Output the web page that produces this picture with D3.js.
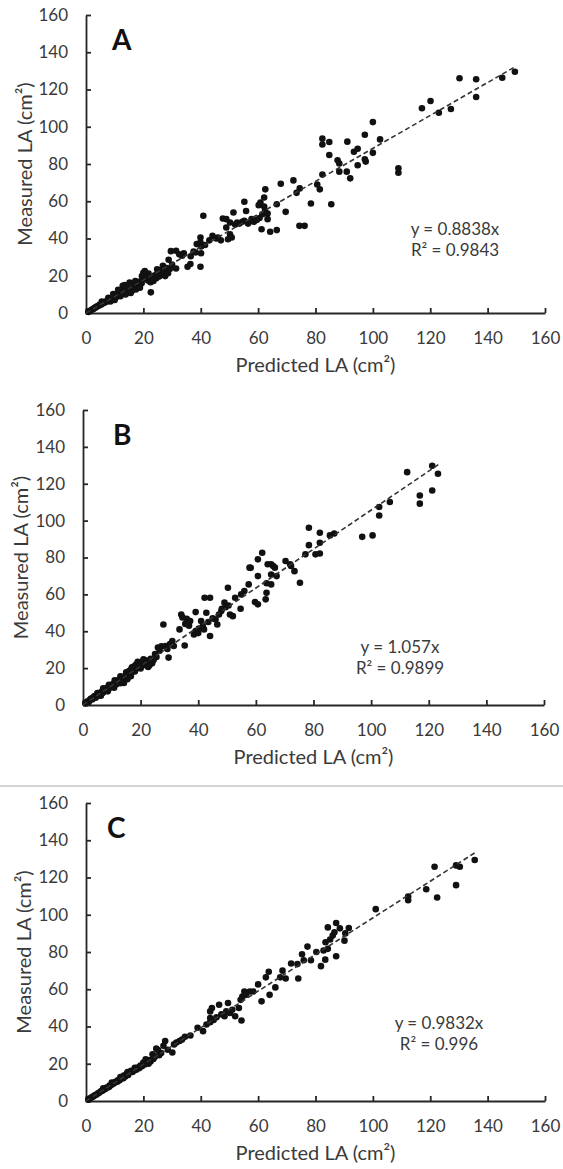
<!DOCTYPE html>
<html><head><meta charset="utf-8">
<script src="https://cdn.jsdelivr.net/npm/d3@7"></script>
<style>body{margin:0;background:#fff} text{font-family:Lato, "Open Sans", sans-serif}</style>
</head><body><svg id="c" width="563" height="1169"></svg>
<script>
// ---------- DATA ----------
const pointsA = [
[0.8,0.6],[1.2,1.1],[1.6,1.3],[2.1,1.9],[2.6,2.2],[3.0,2.8],[3.4,3.0],[3.9,3.6],[4.3,3.8],[4.8,4.5],
[5.2,4.4],[5.7,5.3],[6.1,5.2],[6.6,6.0],[7.0,5.9],[7.5,6.8],[8.0,6.6],[8.4,7.5],[8.9,7.3],[9.3,8.4],
[9.8,7.9],[10.2,9.1],[10.6,8.6],[11.0,10.2],[11.5,9.4],[11.9,11.0],[12.3,10.1],[12.6,12.2],[13.0,11.3],[13.3,13.4],
[13.7,12.0],[14.0,14.5],[14.3,11.0],[14.6,13.0],[15.0,12.2],[15.4,14.0],[15.8,11.8],[16.2,13.4],[16.6,15.5],[17.0,14.2],
[17.4,12.6],[17.8,16.0],[18.2,14.6],[18.6,15.4],[19.0,17.0],[19.4,16.0],[19.8,18.2],[20.0,21.6],[20.3,20.0],[20.7,18.4],
[21.2,19.6],[21.6,17.4],[22.1,18.8],[22.6,11.1],[23.0,19.2],[23.5,17.2],[24.0,20.2],[24.5,18.6],[25.0,21.6],[25.5,19.6],
[26.0,23.0],[26.4,20.6],[26.8,25.4],[27.2,22.2],[27.6,19.8],[28.1,24.2],[28.6,21.4],[28.8,28.6],[29.2,23.6],[29.6,33.2],
[5.5,6.2],[7.8,8.2],[9.5,10.2],[11.2,12.4],[12.8,14.6],[13.5,15.0],[15.2,16.4],[16.0,12.0],[17.2,17.2],[18.8,13.6],
[19.5,19.8],[21.8,21.2],[15.6,10.8],[12.0,9.0],[10.0,7.0],[8.5,6.2],[13.8,10.0],[20.5,22.5],[24.8,23.5],[22.5,16.5],
[30.0,26.0],[31.4,33.4],[31.4,23.9],[32.5,31.5],[33.5,30.8],[34.1,32.1],[35.4,24.8],[36.4,26.3],[36.5,30.5],[37.5,33.0],
[38.2,32.5],[38.6,37.0],[39.9,40.5],[39.9,37.9],[40.1,35.7],[40.1,32.1],[39.9,24.8],[40.9,52.2],[41.5,36.5],[43.0,39.0],
[44.1,41.4],[45.4,40.0],[46.0,40.5],[47.0,39.0],[47.7,50.7],[48.9,50.4],[48.9,45.9],[49.5,39.6],[50.2,48.6],[50.2,42.3],
[50.8,40.5],[51.4,54.0],[52.0,47.5],[52.7,48.6],[53.5,48.0],[54.5,49.0],[55.2,49.5],[55.8,54.8],[55.2,59.7],[56.5,48.0],
[57.7,50.4],[58.5,49.0],[59.5,50.0],[60.2,57.9],[60.8,59.3],[60.5,51.0],[61.5,53.0],[61.2,45.0],[62.1,62.0],[62.1,57.2],
[62.4,54.8],[63.3,53.4],[63.3,50.4],[62.5,66.4],[64.2,43.6],[66.5,44.5],[66.5,58.4],[67.9,69.4],[69.6,54.3],[72.3,71.2],
[73.4,64.5],[74.5,66.9],[74.4,46.8],[76.2,46.8],[78.4,58.8],[80.6,69.0],[81.5,66.4],[85.5,58.4],[82.4,74.3],[82.4,90.5],
[82.4,93.6],[84.8,91.8],[84.8,84.8],[87.7,82.0],[88.3,80.3],[88.3,75.9],[90.9,75.9],[91.1,92.0],[92.1,72.3],[93.4,86.6],
[94.7,88.2],[94.7,79.3],[97.2,95.7],[97.2,82.5],[97.5,81.3],[100.0,102.5],[100.0,86.0],[102.5,93.2],[108.9,77.7],[108.9,75.3],
[117.1,109.9],[120.1,113.8],[123.0,107.5],[127.2,109.5],[130.2,126.0],[136.0,125.5],[136.0,116.0],[145.1,126.3],[149.5,129.5]
];
const pointsB = [
[0.8,0.9],[1.2,1.5],[1.6,2.0],[2.0,1.6],[2.4,2.8],[2.8,3.5],[3.2,3.0],[3.6,4.2],[4.0,4.8],[4.4,4.0],
[4.8,5.6],[5.2,5.0],[5.6,6.4],[6.0,5.8],[6.4,7.2],[6.8,6.5],[7.2,8.2],[7.6,7.4],[8.0,9.0],[8.4,8.2],
[8.8,9.8],[9.2,9.2],[9.6,10.6],[10.0,10.0],[10.4,11.4],[10.8,10.6],[11.2,12.4],[11.6,11.2],[12.0,13.2],[12.4,12.4],
[12.8,14.0],[13.2,12.8],[13.6,15.0],[14.0,13.2],[14.4,15.4],[14.8,14.6],[15.2,16.6],[15.6,15.8],[16.0,18.4],[16.4,17.0],
[16.8,19.6],[17.2,18.0],[17.6,20.8],[18.0,19.2],[18.4,22.0],[18.8,20.0],[19.2,21.2],[19.6,22.6],[20.0,19.8],[20.5,23.4],
[21.0,21.6],[21.5,24.2],[22.0,22.2],[22.6,20.6],[23.0,23.6],[23.5,25.0],[24.0,22.6],[24.5,24.4],[25.0,27.6],[25.5,26.0],
[5.0,6.5],[7.0,9.0],[9.0,11.0],[11.0,13.4],[13.0,15.6],[15.0,17.8],[17.0,20.5],[19.0,23.4],[21.0,24.8],[23.0,21.4],
[6.2,5.0],[8.6,7.4],[10.8,9.4],[13.0,11.8],[15.4,14.0],[18.0,18.2],[20.2,21.0],[22.4,24.0],[14.2,12.0],[16.6,15.6],
[26.0,31.2],[26.6,29.4],[27.2,31.8],[27.9,43.7],[28.7,32.0],[29.3,30.4],[29.7,25.7],[30.2,33.0],[31.0,34.7],[31.5,32.0],
[33.5,41.0],[34.1,49.1],[34.5,47.5],[35.3,32.3],[35.5,44.0],[36.0,46.8],[36.8,43.0],[37.2,45.5],[38.5,38.3],[39.1,40.1],
[39.1,50.4],[40.0,39.0],[40.2,41.5],[41.0,45.5],[41.6,42.8],[42.0,41.0],[42.2,58.2],[42.8,50.0],[43.5,45.0],[44.1,37.4],
[44.1,58.2],[45.0,47.0],[46.0,46.4],[46.6,43.7],[47.2,49.1],[48.0,51.0],[48.2,52.2],[49.1,55.5],[49.5,53.0],[50.3,63.6],
[50.5,54.0],[51.0,49.1],[52.0,48.2],[52.8,58.2],[54.7,52.2],[54.9,60.0],[56.0,61.8],[57.5,65.4],[58.2,74.4],[57.8,74.5],
[59.7,55.8],[60.7,54.6],[60.7,69.9],[60.7,79.0],[62.2,82.6],[63.4,57.3],[63.7,60.9],[63.7,66.0],[65.3,65.4],[65.3,70.8],
[64.1,76.3],[65.3,76.3],[66.0,75.4],[66.6,74.5],[67.2,69.9],[70.3,78.1],[71.9,76.3],[72.2,75.4],[73.4,72.6],[75.3,66.3],
[77.2,81.7],[78.4,96.1],[78.4,86.7],[80.7,81.7],[82.2,82.2],[82.2,88.0],[82.2,93.4],[85.7,92.0],[87.2,93.0],[96.9,91.2],
[100.5,92.0],[102.8,102.8],[102.8,107.4],[106.5,110.1],[112.5,126.3],[116.9,109.2],[116.9,113.6],[121.2,116.3],[121.2,129.8],[123.2,125.4]
];
const pointsC = [
[0.8,0.7],[1.2,1.3],[1.7,1.6],[2.2,2.3],[2.7,2.5],[3.2,3.2],[3.7,3.5],[4.2,4.2],[4.7,4.5],[5.2,5.2],
[5.7,5.5],[6.2,6.2],[6.7,6.4],[7.2,7.2],[7.7,7.4],[8.2,8.3],[8.7,8.4],[9.2,9.2],[9.7,9.4],[10.2,10.3],
[10.7,10.3],[11.2,11.3],[11.7,11.2],[12.2,12.4],[12.7,12.2],[13.2,13.6],[13.7,13.1],[14.2,14.6],[14.7,14.0],[15.2,15.4],
[15.7,16.2],[16.2,15.6],[16.8,16.4],[17.5,16.8],[18.0,18.0],[18.5,17.6],[19.0,19.0],[19.5,18.6],[20.0,20.6],[20.5,19.6],
[6.0,6.8],[9.0,9.9],[12.0,12.9],[14.5,15.6],[20.8,22.4],[21.8,20.0],[8.0,7.5],[11.0,10.5],[13.0,12.2],[17.0,17.8],
[21.0,21.4],[21.5,20.6],[22.0,22.0],[22.5,21.2],[23.2,25.1],[23.5,22.6],[24.0,23.8],[24.5,28.1],[25.1,27.4],[25.5,24.6],
[26.2,25.8],[27.0,29.6],[27.6,32.2],[28.5,27.5],[30.1,26.0],[30.7,30.4],[31.5,31.4],[32.6,32.2],[33.5,33.0],[34.5,34.5],
[36.4,35.2],[38.9,39.3],[40.8,37.5],[42.0,41.1],[43.3,42.3],[43.3,44.6],[43.3,48.1],[43.9,49.9],[44.5,43.5],[45.5,45.0],
[46.4,51.7],[47.2,46.5],[48.3,45.5],[48.9,48.1],[49.5,52.6],[50.2,47.3],[51.0,49.0],[52.0,45.5],[53.3,49.9],[53.9,54.3],
[54.2,43.2],[54.5,56.1],[55.2,58.8],[55.8,57.0],[57.1,58.8],[58.3,58.8],[60.0,62.6],[61.2,53.5],[62.7,66.4],[63.7,69.4],
[64.0,57.0],[66.0,61.0],[67.7,66.4],[68.5,70.0],[69.6,65.8],[71.5,73.8],[73.7,73.5],[74.0,65.8],[75.3,78.8],[75.9,75.6],
[78.4,75.6],[80.3,80.0],[81.9,72.4],[83.4,75.9],[87.2,77.7],[77.2,82.9],[82.8,80.8],[84.3,81.7],[83.5,85.2],[85.1,86.7],
[86.0,88.8],[86.6,90.6],[84.3,93.2],[87.2,95.6],[88.5,92.7],[90.1,86.1],[90.4,90.0],[91.6,92.9],[101.0,103.0],[112.3,107.8],
[112.3,109.8],[118.6,113.7],[121.5,125.8],[122.4,109.3],[129.0,115.9],[129.0,126.5],[130.3,125.8],[135.5,129.4]
];
const panelLetters = ["A", "B", "C"];
const slopes = [0.8838, 1.057, 0.9832];
const slopeLabels = ["y = 0.8838x", "y = 1.057x", "y = 0.9832x"];
const r2Labels = ["R\u00B2 = 0.9843", "R\u00B2 = 0.9899", "R\u00B2 = 0.996"];
const trendEnds = [149.5, 123.5, 135.5];
const tickValues = [0, 20, 40, 60, 80, 100, 120, 140, 160];
const xTitle = "Predicted LA (cm\u00B2)";
const yTitle = "Measured LA (cm\u00B2)";

// ---------- LAYOUT ----------
const layout = [
  {left:86, right:545, top:15, bottom:313, annX:455, annY:235, letX:112, letY:50, ytX:24},
  {left:83, right:544, top:410, bottom:705, annX:400, annY:653, letX:113, letY:445, ytX:20},
  {left:86, right:545, top:803, bottom:1101, annX:439, annY:1029, letX:107, letY:838, ytX:23}
];
const allPoints = [pointsA, pointsB, pointsC];
const svg = d3.select("#c");

svg.append("line").attr("x1",0).attr("x2",563).attr("y1",786).attr("y2",786)
  .attr("stroke","#d4d4d4").attr("stroke-width",2);

layout.forEach((L, i) => {
  const x = d3.scaleLinear().domain([0,160]).range([L.left, L.right]);
  const y = d3.scaleLinear().domain([0,160]).range([L.bottom, L.top]);
  const g = svg.append("g");

  const xa = g.append("g").attr("transform",`translate(0,${L.bottom})`)
    .call(d3.axisBottom(x).tickValues(tickValues).tickSizeInner(-5).tickSizeOuter(0).tickPadding(19));
  const ya = g.append("g").attr("transform",`translate(${L.left},0)`)
    .call(d3.axisLeft(y).tickValues(tickValues).tickSizeInner(-5).tickSizeOuter(0).tickPadding(18));
  [xa, ya].forEach(a => {
    a.selectAll("path,line").attr("stroke","#262626").attr("stroke-width",1.8);
    a.selectAll("text").attr("fill","#3a3a3a").style("font-size","17px").style("font-family","Lato, sans-serif");
  });

  g.append("g").selectAll("circle").data(allPoints[i]).join("circle")
    .attr("cx", d => x(d[0])).attr("cy", d => y(d[1])).attr("r", 3.3).attr("fill","#111");

  g.append("line").attr("x1", x(0)).attr("y1", y(0))
    .attr("x2", x(trendEnds[i])).attr("y2", y(slopes[i]*trendEnds[i]))
    .attr("stroke","#333").attr("stroke-width",1.6).attr("stroke-dasharray","5,3");

  g.append("text").attr("x", L.letX).attr("y", L.letY).text(panelLetters[i])
    .style("font-size","28px").style("font-weight","bold").attr("fill","#111");

  g.append("text").attr("x", L.annX).attr("y", L.annY).attr("text-anchor","middle")
    .attr("fill","#3a3a3a").style("font-size","17px").text(slopeLabels[i]);
  g.append("text").attr("x", L.annX).attr("y", L.annY + 21).attr("text-anchor","middle")
    .attr("fill","#3a3a3a").style("font-size","17px").text(r2Labels[i]);

  g.append("text").attr("x", (L.left+L.right)/2).attr("y", L.bottom + 59).attr("text-anchor","middle")
    .attr("fill","#3a3a3a").style("font-size","20px").text(xTitle);
  g.append("text").attr("transform",`translate(${L.ytX},${(L.top+L.bottom)/2}) rotate(-90)`)
    .attr("text-anchor","middle").attr("dominant-baseline","central")
    .attr("fill","#3a3a3a").style("font-size","20px").text(yTitle);
});
</script></body></html>
